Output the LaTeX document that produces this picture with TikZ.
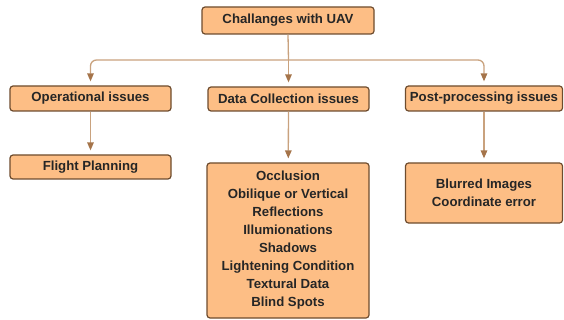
\documentclass[tikz,border=0pt]{standalone}
\usepackage{fontspec}
\setmainfont{Liberation Sans}
\usetikzlibrary{arrows.meta}
\definecolor{boxfill}{HTML}{FDBE85}
\definecolor{boxline}{HTML}{6E4C2E}
\definecolor{lineclr}{HTML}{C9A27E}
\definecolor{tipclr}{HTML}{A5744A}
\begin{document}
\begin{tikzpicture}[x=1pt,y=-1pt,
  box/.style={draw=boxline, fill=boxfill, line width=1.2pt, rounded corners=3pt,
    font=\fontsize{13.2}{18}\selectfont\bfseries, text=black!85, align=center, inner sep=0pt},
  conn/.style={draw=lineclr, line width=1.3pt},
  arr/.style={conn, -{Triangle[width=6.5pt,length=8pt,fill=tipclr,color=tipclr]}, shorten >=4pt}]
\useasboundingbox (0,0) rectangle (564,320);
\node[box, minimum width=172pt, minimum height=27pt] (top) at (288,20.5) {Challanges with UAV};
\node[box, minimum width=161pt, minimum height=25pt] (op) at (90.5,98.5) {Operational issues};
\node[box, minimum width=161pt, minimum height=24pt] (dc) at (288.5,99) {Data Collection issues};
\node[box, minimum width=157pt, minimum height=25pt] (pp) at (484,98.5) {Post-processing issues};
\node[box, minimum width=161pt, minimum height=24pt] (fp) at (90.5,167) {Flight Planning};
\node[box, minimum width=162pt, minimum height=155pt] (dcl) at (288,240.5) {Occlusion\\Obilique or Vertical\\Reflections\\Illumionations\\Shadows\\Lightening Condition\\Textural Data\\Blind Spots};
\node[box, minimum width=157pt, minimum height=60pt] (ppl) at (484,193) {Blurred Images\\Coordinate error};
\coordinate (j) at (288.5,60);
\draw[conn] (top.south) -- (j);
\draw[arr, rounded corners=6pt] (j) -| (op.north);
\draw[arr, rounded corners=6pt] (j) -| (pp.north);
\draw[arr] (j) -- (dc.north);
\draw[arr] (op) -- (fp);
\draw[arr] (dc) -- (dcl);
\draw[arr] (pp) -- (ppl);
\end{tikzpicture}
\end{document}
